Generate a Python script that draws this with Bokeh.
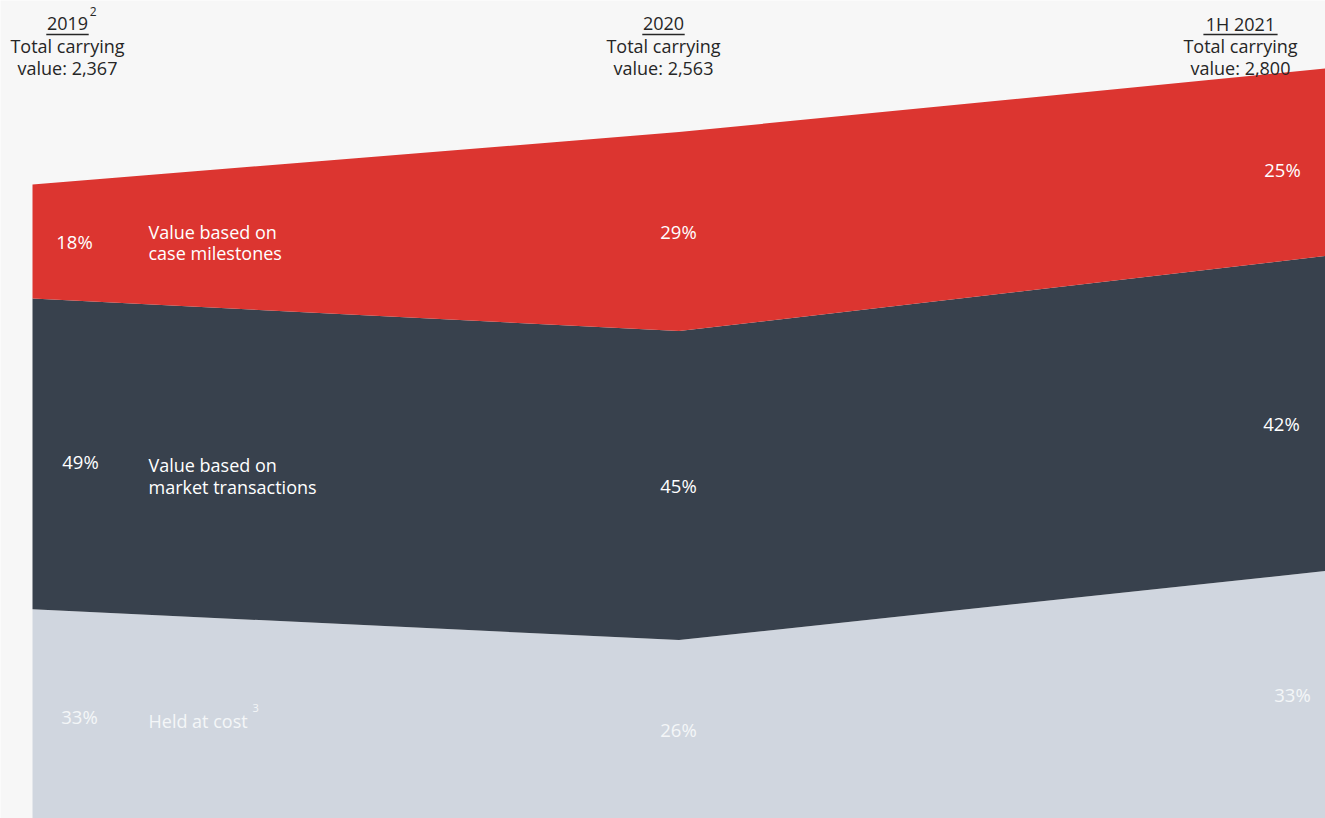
from bokeh.plotting import figure
from bokeh.models import ColumnDataSource, Label
from bokeh.embed import file_html
from bokeh.resources import INLINE

# ---- data ----
periods = ["2019", "2020", "1H 2021"]
period_sup = ["2", "", ""]
totals = [2367, 2563, 2800]
held_at_cost = [33, 26, 33]          # % share
market_transactions = [49, 45, 42]   # % share
case_milestones = [18, 29, 25]       # % share
series_names = [["Held at cost"], ["Value based on", "market transactions"], ["Value based on", "case milestones"]]
series_sup = ["3", "", ""]

xs = list(range(len(periods)))
abs_held = [t * s / 100 for t, s in zip(totals, held_at_cost)]
abs_market = [t * s / 100 for t, s in zip(totals, market_transactions)]
abs_case = [t * s / 100 for t, s in zip(totals, case_milestones)]

src = ColumnDataSource(dict(x=xs, held=abs_held, market=abs_market, case=abs_case))

colors = ["#d0d6df", "#38414d", "#dc3530"]
txt_colors = ["#f4f6f8", "#ffffff", "#ffffff"]
FONT = "Open Sans"
HDR = "#262626"

# geometry: page px -> data
PXX = 646.5      # px per x unit
X0 = 32          # page x of first period
PXY = 0.26785    # px per value unit
Y0 = 818         # page y of value 0

def X(px):
    return (px - X0) / PXX

def Y(py):
    return (Y0 - py) / PXY

W, H = 1325, 818
p = figure(width=W, height=H, output_backend="svg", toolbar_location=None,
           x_range=(X(0), X(W)), y_range=(Y(H), Y(0)),
           min_border=0, min_border_left=0, min_border_right=0,
           min_border_top=0, min_border_bottom=0)
p.background_fill_color = "#f7f7f7"
p.border_fill_color = "#f7f7f7"
p.outline_line_color = None
p.axis.visible = False
p.grid.visible = False

p.varea_stack(stackers=["held", "market", "case"], x="x", color=colors, source=src)

# header labels
hdr_x = [67, 663, 1240]
for i, name in enumerate(periods):
    cx = X(hdr_x[i])
    for txt, py in [(name, 23), ("Total carrying", 45), ("value: {:,}".format(totals[i]), 67)]:
        p.add_layout(Label(x=cx, y=Y(py), text=txt, text_align="center", text_baseline="middle",
                           text_font=FONT, text_font_size="18px", text_color=HDR))
    half = len(name) * 5.3
    p.segment(x0=[X(hdr_x[i] - half)], x1=[X(hdr_x[i] + half)], y0=[Y(34)], y1=[Y(34)],
              line_color=HDR, line_width=1.5)
    if period_sup[i]:
        p.add_layout(Label(x=X(hdr_x[i] + half + 1), y=Y(11), text=period_sup[i], text_align="left",
                           text_baseline="middle", text_font=FONT, text_font_size="12px",
                           text_color=HDR))

# percentage labels
shares = [held_at_cost, market_transactions, case_milestones]
abs_vals = [abs_held, abs_market, abs_case]
lbl_x = [[79, 80, 74], [678, 678, 678], [1292, 1281, 1282]]
lbl_dy = [[3, 8, 0], [0, 0, 0], [0, 10, 7]]
for i in xs:
    base = 0
    for k in range(3):
        mid = base + abs_vals[k][i] / 2
        base += abs_vals[k][i]
        p.add_layout(Label(x=X(lbl_x[i][k]), y=mid, y_offset=-lbl_dy[i][k],
                           text="{}%".format(shares[k][i]), text_align="center",
                           text_baseline="middle", text_font=FONT, text_font_size="18.5px",
                           text_color=txt_colors[k]))

# series labels near first period
name_y = [[720], [464, 486], [231, 252]]
for k in range(3):
    for line, py in zip(series_names[k], name_y[k]):
        p.add_layout(Label(x=X(148), y=Y(py), text=line, text_align="left",
                           text_baseline="middle", text_font=FONT, text_font_size="18px",
                           text_color=txt_colors[k]))
    if series_sup[k]:
        p.add_layout(Label(x=X(252), y=Y(707), text=series_sup[k], text_align="left",
                           text_baseline="middle", text_font=FONT, text_font_size="11px",
                           text_color=txt_colors[k]))

open("out.html", "w").write(file_html(p, INLINE))
